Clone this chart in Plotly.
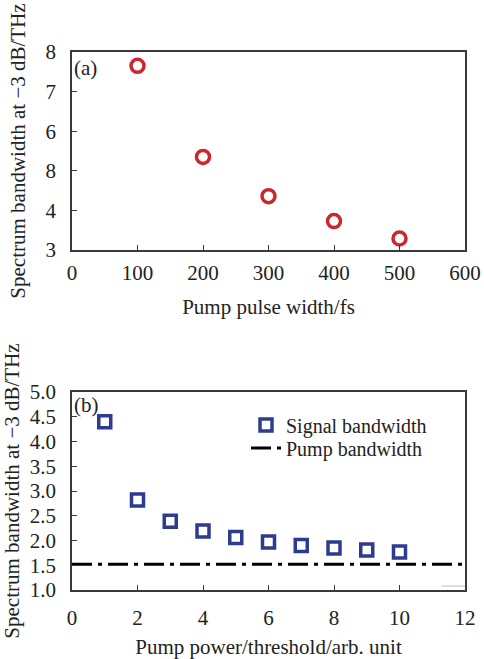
import plotly.graph_objects as go

# Panel (a)
pulse_width = [100, 200, 300, 400, 500]
bandwidth_a = [7.65, 5.35, 4.36, 3.73, 3.29]
ytick_vals_a = [3, 4, 5, 6, 7, 8]
ytick_text_a = ["3", "4", "8", "6", "7", "8"]

# Panel (b)
pump_power = [1, 2, 3, 4, 5, 6, 7, 8, 9, 10]
signal_bw = [4.40, 2.82, 2.39, 2.19, 2.06, 1.97, 1.90, 1.85, 1.81, 1.77]
pump_bw = 1.52
pump_x = [0, 12]

FONT = "Liberation Serif"
FS = 21
W, H = 484, 659
MB = 60  # bottom margin in px
PH = H - MB  # plot-area height
x0, x1 = 72 / W, 465 / W
ya = [(H - MB - 250) / PH, (H - MB - 52) / PH]
yb = [(H - MB - 590) / PH, (H - MB - 392) / PH]

fig = go.Figure()
fig.add_trace(go.Scatter(
    x=pulse_width, y=bandwidth_a, mode="markers", showlegend=False,
    marker=dict(symbol="circle-open", size=13, color="#c8282e", line=dict(width=3.5, color="#c8282e")),
    xaxis="x", yaxis="y"))
fig.add_trace(go.Scatter(
    x=pump_power, y=signal_bw, mode="markers", name="Signal bandwidth", legend="legend",
    marker=dict(symbol="square-open", size=12, color="#2d3c8e", line=dict(width=3.5, color="#2d3c8e")),
    xaxis="x2", yaxis="y2"))
fig.add_trace(go.Scatter(
    x=pump_x, y=[pump_bw, pump_bw], mode="lines", name="Pump bandwidth", legend="legend2",
    line=dict(color="black", width=3, dash="20px,6px,4px,6px"),
    xaxis="x2", yaxis="y2"))

axis_common = dict(showline=True, linecolor="#3a3a3a", linewidth=1.5, mirror=True,
                   ticks="inside", ticklen=5, tickcolor="#3a3a3a", showgrid=False, zeroline=False,
                   tickfont=dict(family=FONT, size=FS, color="#222"))

leg_common = dict(xanchor="left", yanchor="middle", bgcolor="rgba(0,0,0,0)",
                  font=dict(family=FONT, size=20, color="#222"), itemwidth=30, borderwidth=0)

fig.update_layout(
    width=W, height=H, margin=dict(l=0, r=0, t=0, b=MB),
    paper_bgcolor="white", plot_bgcolor="white",
    font=dict(family=FONT, size=FS, color="#222"),
    xaxis=dict(domain=[x0, x1], range=[0, 600], tickvals=[0, 100, 200, 300, 400, 500, 600],
               anchor="y", automargin=False, ticklabelstandoff=3,
               title=dict(text="Pump pulse width/fs", font=dict(family=FONT, size=FS), standoff=15),
               **axis_common),
    yaxis=dict(domain=ya, range=[3, 8], tickvals=ytick_vals_a, ticktext=ytick_text_a,
               anchor="x", automargin=False, ticklabelstandoff=10,
               title=dict(text="Spectrum bandwidth at −3 dB/THz", font=dict(family=FONT, size=FS), standoff=14),
               **axis_common),
    xaxis2=dict(domain=[x0, x1], range=[0, 12], tickvals=list(range(0, 13, 2)),
                anchor="y2", automargin=False, ticklabelstandoff=8,
                title=dict(text="Pump power/threshold/arb. unit", font=dict(family=FONT, size=FS), standoff=16),
                **axis_common),
    yaxis2=dict(domain=yb, range=[1, 5], tickvals=[1, 1.5, 2, 2.5, 3, 3.5, 4, 4.5, 5],
                tickformat=".1f", anchor="x2", automargin=False, ticklabelstandoff=10,
                title=dict(text="Spectrum bandwidth at −3 dB/THz", font=dict(family=FONT, size=FS), standoff=10),
                **axis_common),
    legend=dict(x=246 / W, y=(H - MB - 425) / PH, **leg_common),
    legend2=dict(x=246 / W, y=(H - MB - 448) / PH, **leg_common),
    shapes=[dict(type="line", xref="x2 domain", yref="y2 domain", x0=0.94, x1=1.0, y0=0.02, y1=0.02,
                 line=dict(color="#bbbbbb", width=1))],
    annotations=[
        dict(text="(a)", x=0, y=1, xref="x domain", yref="y domain", xanchor="left", yanchor="top",
             showarrow=False, font=dict(family=FONT, size=FS, color="#222"), xshift=0, yshift=-2),
        dict(text="(b)", x=0, y=1, xref="x2 domain", yref="y2 domain", xanchor="left", yanchor="top",
             showarrow=False, font=dict(family=FONT, size=FS, color="#222"), xshift=0, yshift=1),
    ],
)

fig.write_html("out.html")
